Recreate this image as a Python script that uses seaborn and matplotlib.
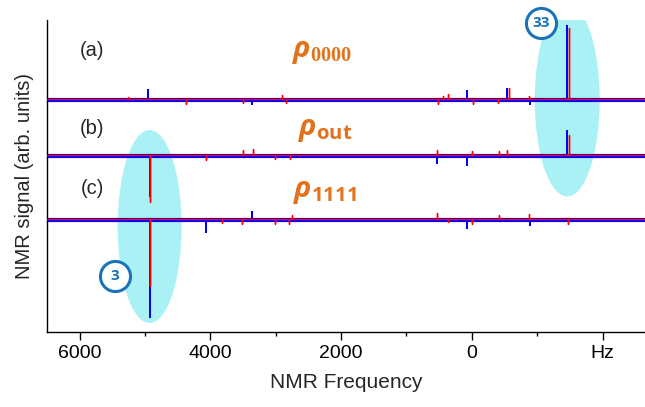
import numpy as np
import matplotlib
matplotlib.use("Agg")
import matplotlib.pyplot as plt
import seaborn as sns
from matplotlib.patches import Ellipse
from matplotlib.ticker import FixedLocator

# spike positions (Hz) and heights (arb. units)
a_blue_f = [4950, 3366, 77, -540, -892, -1460]
a_blue_h = [10, -4, 9, 11, -4, 74]
a_red_f = [5260, 4373, 3500, 2907, 2842, 515, 444, 358, -15, -407, -565, -880, -1485]
a_red_h = [2, -5, -4, 4, -4, -5, 3, 5, -5, -4, 11, 3, 71]

b_blue_f = [4930, 535, 77, -1460]
b_blue_h = [-40, -7, -9, 25]
b_red_f = [4930, 4070, 3500, 3350, 3010, 2780, 530, 0, -410, -540, -1485]
b_red_h = [-47, -5, 5, 6, -4, -4, 5, 4, 4, 5, 20]

c_blue_f = [4930, 4070, 3360, 77, -890]
c_blue_h = [-97, -12, 8, -8, -5]
c_red_f = [4930, 3826, 3515, 3010, 2800, 2750, 530, 367, 0, -410, -880, -1470]
c_red_h = [-67, -4, -5, -5, -5, 4, 6, -3, -5, 4, 5, -5]

offsets = [232, 176, 112]
panel_labels = ["(a)", "(b)", "(c)"]
panel_label_y = [282, 204, 144]
rho_labels = [r"$\rho_{\mathsf{0000}}$", r"$\rho_{\mathbf{out}}$", r"$\rho_{\mathbf{1111}}$"]
rho_pos = [(2290, 280), (2237, 202), (2245, 140)]

x_ticks = [6000, 4000, 2000, 0, -2000]
x_ticklabels = ["6000", "4000", "2000", "0", "Hz"]
x_lim = (6500, -2650)


def trace(freqs, heights, base):
    # baseline with vertical spikes at the listed frequencies
    xs, ys = [x_lim[0]], [base]
    for f, h in sorted(zip(freqs, heights), key=lambda p: -p[0]):
        xs += [f, f, f]
        ys += [base, base + h, base]
    xs.append(x_lim[1])
    ys.append(base)
    return np.array(xs, float), np.array(ys, float)


sns.set_style("ticks")
plt.rcParams["font.family"] = ["Liberation Sans", "DejaVu Sans"]
plt.rcParams["mathtext.fontset"] = "custom"
plt.rcParams["mathtext.it"] = "Open Sans:italic:bold"
plt.rcParams["mathtext.bf"] = "Open Sans:bold"
plt.rcParams["mathtext.rm"] = "Open Sans"
plt.rcParams["mathtext.sf"] = "Liberation Serif:bold"

fig = plt.figure(figsize=(6.45, 4.07), dpi=100)
ax = fig.add_axes([47 / 645, 75 / 407, 598 / 645, 312 / 407])

cyan = "#aaf1f6"
ax.add_patch(Ellipse((-1460, 232), 995, 193, color=cyan, lw=0, zorder=0))
ax.add_patch(Ellipse((4930, 105.5), 980, 193, color=cyan, lw=0, zorder=0))

traces = [
    (a_blue_f, a_blue_h, a_red_f, a_red_h),
    (b_blue_f, b_blue_h, b_red_f, b_red_h),
    (c_blue_f, c_blue_h, c_red_f, c_red_h),
]
for (bf, bh, rf, rh), base in zip(traces, offsets):
    xb, yb = trace(bf, bh, base)
    xr, yr = trace(rf, rh, base + 1.2)
    # thick blue band for the noisy baseline
    sns.lineplot(x=list(x_lim), y=[base, base], color="#0000ff", lw=3.0, ax=ax, zorder=2)
    sns.lineplot(x=xb, y=yb, sort=False, estimator=None, color="#0000ff", lw=1.4, ax=ax, zorder=2.5)
    sns.lineplot(x=xr, y=yr, sort=False, estimator=None, color="#ff0000", lw=1.0, ax=ax, zorder=3)

# panel labels and density matrix names
orange = "#e2731c"
for lab, ly in zip(panel_labels, panel_label_y):
    ax.text(5810, ly, lab, fontsize=14.5, ha="center", va="center")
for rho, (rx, ry) in zip(rho_labels, rho_pos):
    ax.text(rx, ry, rho, fontsize=21, color=orange, ha="center", va="center")

# circled peak numbers
circ = "#1a73b8"
ax.scatter([-1061, 5456], [309, 56], s=470, facecolor="white", edgecolor=circ, lw=2.2, zorder=5, clip_on=False)
ax.text(-1061, 309, "33", color=circ, fontsize=11, fontweight="bold", family="Open Sans",
        ha="center", va="center", zorder=6)
ax.text(5456, 56, "3", color=circ, fontsize=11, fontweight="bold", family="Open Sans",
        ha="center", va="center", zorder=6)

ax.set_xlim(*x_lim)
ax.set_ylim(0, 312)
ax.xaxis.set_major_locator(FixedLocator(x_ticks))
ax.set_xticklabels(x_ticklabels)
ax.xaxis.set_minor_locator(FixedLocator([5000, 3000, 1000, -1000]))
ax.tick_params(axis="x", which="major", length=5.5, width=1, labelsize=14, pad=4, colors="black")
ax.tick_params(axis="x", which="minor", length=2.7, width=1, colors="black")
ax.set_yticks([])
ax.set_xlabel("NMR Frequency", fontsize=15, labelpad=8)
ax.set_ylabel("NMR signal (arb. units)", fontsize=14.5, labelpad=9)
sns.despine(ax=ax)
for s in ["left", "bottom"]:
    ax.spines[s].set_color("black")
    ax.spines[s].set_linewidth(1)

fig.savefig("out.png", dpi=100)
